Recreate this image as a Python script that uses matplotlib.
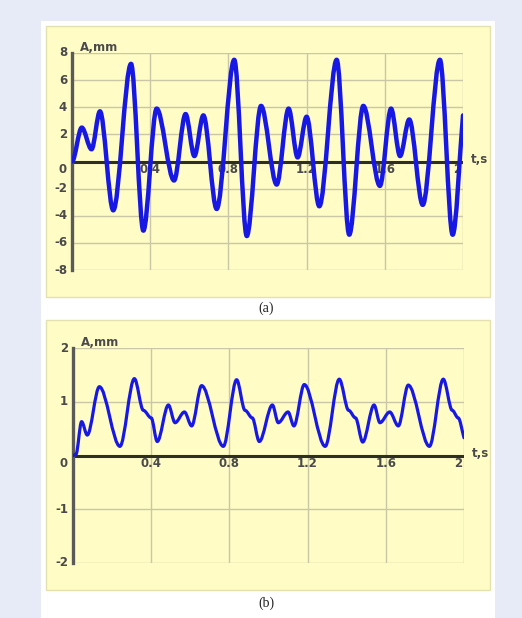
import matplotlib
matplotlib.use("Agg")
import matplotlib.pyplot as plt
from matplotlib.patches import Rectangle, PathPatch
from matplotlib.path import Path

# Curve (a): extrema, t in s, A in mm
t_a = [0.0, 0.05, 0.10, 0.143, 0.211, 0.302, 0.365, 0.433, 0.522, 0.581,
       0.626, 0.672, 0.740, 0.830, 0.894, 0.967, 1.047, 1.108, 1.154, 1.200,
       1.265, 1.354, 1.418, 1.490, 1.575, 1.632, 1.678, 1.725, 1.794, 1.882,
       1.947, 2.0]
A_a = [0.0, 2.5, 0.9, 3.7, -3.6, 7.2, -5.1, 3.9, -1.4, 3.5,
       0.4, 3.4, -3.5, 7.5, -5.5, 4.1, -1.7, 3.9, 0.3, 3.3,
       -3.3, 7.5, -5.4, 4.1, -1.8, 3.9, 0.4, 3.1, -3.2, 7.5,
       -5.4, 3.4]

# Curve (b)
t_b = [0.0, 0.015, 0.044, 0.073, 0.135, 0.24, 0.314, 0.36, 0.40, 0.431,
       0.488, 0.522, 0.57, 0.607, 0.658, 0.769, 0.837, 0.88, 0.917, 0.953,
       1.02, 1.05, 1.10, 1.13, 1.183, 1.29, 1.362, 1.41, 1.445, 1.482,
       1.54, 1.57, 1.62, 1.664, 1.715, 1.823, 1.894, 1.94, 1.97, 2.0]
A_b = [0.0, 0.02, 0.63, 0.38, 1.28, 0.17, 1.43, 0.84, 0.70, 0.26,
       0.94, 0.61, 0.81, 0.55, 1.30, 0.17, 1.41, 0.84, 0.70, 0.26,
       0.94, 0.61, 0.81, 0.55, 1.32, 0.17, 1.42, 0.84, 0.70, 0.25,
       0.94, 0.61, 0.81, 0.55, 1.31, 0.17, 1.42, 0.84, 0.70, 0.33]

x_ticks = [0.4, 0.8, 1.2, 1.6, 2]
x_labels = ['0.4', '0.8', '1.2', '1.6', '2']
y_ticks_a = [8, 6, 4, 2, -2, -4, -6, -8]
y_ticks_b = [2, 1, -1, -2]

W, H = 522, 618
BLUE = '#1818e4'
GRID = '#c9c7a6'
LABEL = '#4a4a4a'
FS = 8.5


def smooth_path(t, a):
    # cubic segments with flat tangents at the read extrema
    verts = [(t[0], a[0])]
    codes = [Path.MOVETO]
    for i in range(1, len(t)):
        dx = t[i] - t[i - 1]
        c2 = a[i] if i < len(t) - 1 else a[i] - (a[i] - a[i - 1]) / 3
        verts += [(t[i - 1] + dx / 3, a[i - 1]), (t[i] - dx / 3, c2), (t[i], a[i])]
        codes += [Path.CURVE4] * 3
    return Path(verts, codes)


def fig_rect(x0, y0, x1, y1):
    # pixel box (top-left origin) -> figure fraction
    return [x0 / W, 1 - y1 / H, (x1 - x0) / W, (y1 - y0) / H]


fig = plt.figure(figsize=(5.22, 6.18), dpi=100)
fig.patch.set_facecolor('#e6ebf7')

r = fig_rect(41, 21, 495, 620)
fig.patches.append(Rectangle((r[0], r[1]), r[2], r[3], transform=fig.transFigure,
                             facecolor='white', edgecolor='none', zorder=-2))
for box in [(46, 26, 490, 297), (46, 320, 490, 590)]:
    r = fig_rect(*box)
    fig.patches.append(Rectangle((r[0], r[1]), r[2], r[3], transform=fig.transFigure,
                                 facecolor='#fffcc6', edgecolor='#e4e1b0', lw=1, zorder=-1))


def draw_panel(rect, t, a, yticks, ylim, lw, caption, cap_y):
    ax = fig.add_axes(fig_rect(*rect))
    ax.set_facecolor('none')
    ax.set_xlim(0, 2)
    ax.set_ylim(*ylim)
    for x in x_ticks:
        ax.axvline(x, color=GRID, lw=1, zorder=1)
    for y in yticks:
        ax.axhline(y, color=GRID, lw=1, zorder=1)
    for s in ['top', 'right', 'bottom']:
        ax.spines[s].set_visible(False)
    ax.spines['left'].set_color('#5a5a5a')
    ax.spines['left'].set_linewidth(2.4)
    ax.axhline(0, color='#2e2e22', lw=2.2, zorder=2)
    ax.set_xticks([])
    ax.set_yticks([])
    ax.add_patch(PathPatch(smooth_path(t, a), fill=False, edgecolor=BLUE,
                           lw=lw, capstyle='round', joinstyle='round', zorder=3))
    span = ylim[1] - ylim[0]
    for y in yticks:
        ax.text(-0.025, y, str(y), ha='right', va='center', fontsize=FS,
                fontweight='bold', color=LABEL, clip_on=False)
    ax.text(-0.03, -0.035 * span, '0', ha='right', va='center', fontsize=FS,
            fontweight='bold', color=LABEL, clip_on=False)
    for x, lab in zip(x_ticks, x_labels):
        ax.text(x + (0.0 if x < 2 else -0.03), -0.035 * span, lab, ha='center',
                va='center', fontsize=FS, fontweight='bold', color=LABEL, zorder=2)
    ax.text(2.04, 0.01 * span, 't,s', ha='left', va='center', fontsize=FS,
            fontweight='bold', color=LABEL, clip_on=False)
    ax.text(0.04, ylim[1] + 0.025 * span, 'A,mm', ha='left', va='center', fontsize=FS,
            fontweight='bold', color=LABEL, clip_on=False)
    fig.text(266 / W, 1 - cap_y / H, caption, ha='center', va='center',
             fontsize=10, family='Liberation Serif', color='#222222')
    return ax


draw_panel((72, 53, 463, 270), t_a, A_a, y_ticks_a, (-8, 8), 3.2, '(a)', 308)
draw_panel((73, 348, 464, 563), t_b, A_b, y_ticks_b, (-2, 2), 2.3, '(b)', 603)

fig.savefig('out.png', dpi=100, facecolor=fig.get_facecolor())
